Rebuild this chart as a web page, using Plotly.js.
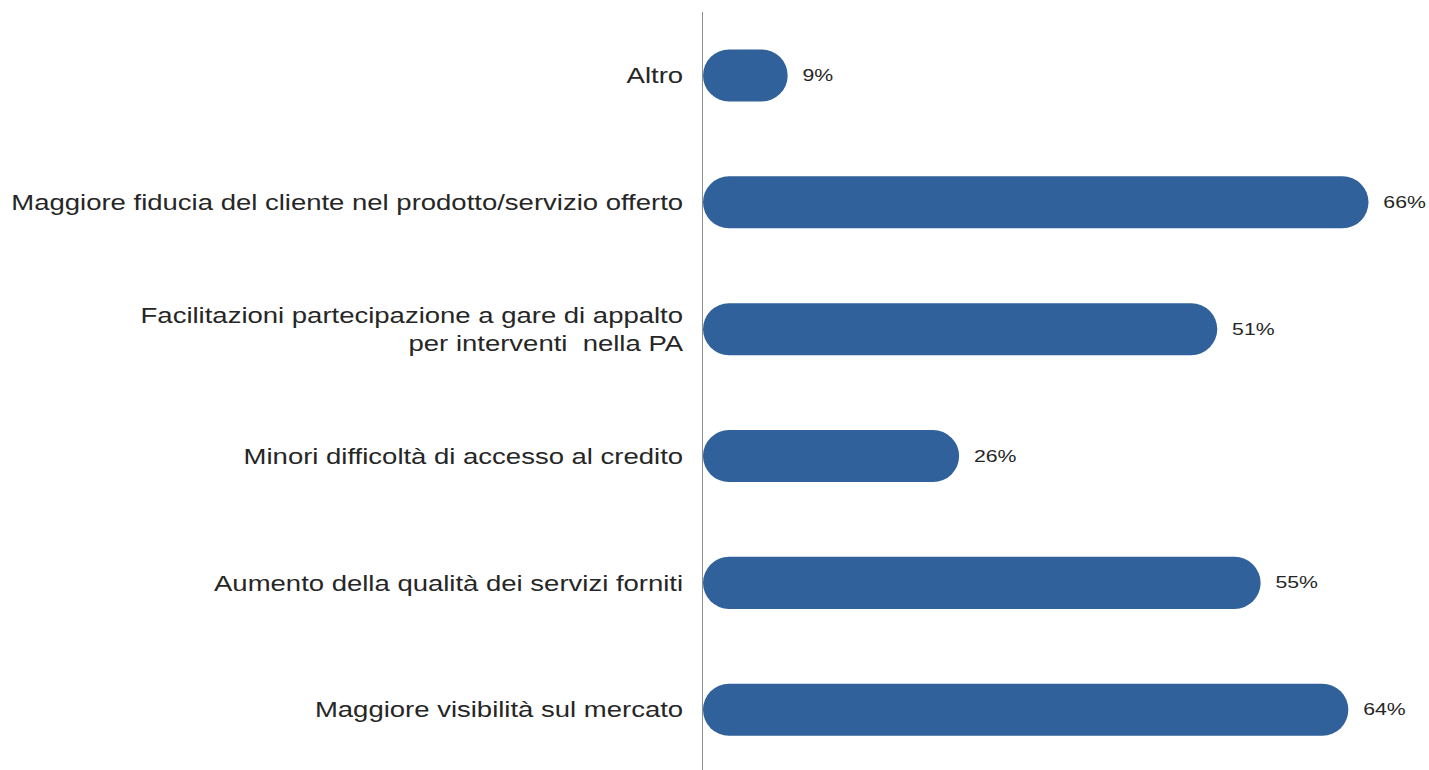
<!DOCTYPE html>
<html>
<head>
<meta charset="utf-8">
<script src="https://cdn.plot.ly/plotly-3.0.1.min.js"></script>
<style>
html,body{margin:0;padding:0;background:#fff;}
#chart{width:1429px;height:770px;}
</style>
</head>
<body>
<div id="chart"></div>
<script>
// Data (bottom to top)
const categories = [
  "Maggiore visibilità sul mercato",
  "Aumento della qualità dei servizi forniti",
  "Minori difficoltà di accesso al credito",
  "Facilitazioni partecipazione a gare di appalto<br>per interventi  nella PA",
  "Maggiore fiducia del cliente nel prodotto/servizio offerto",
  "Altro"
];
// bar lengths (percent)
const values = [64, 55.3, 25.4, 51, 66, 8.4];
// printed value labels
const valueLabels = ["64%", "55%", "26%", "51%", "66%", "9%"];

const BAR_COLOR = "#31619b";
const TEXT_COLOR = "#262626";
const FONT = "Liberation Sans, Arial, sans-serif";
const H_STRETCH = 1.25; // the reference text is drawn horizontally wide

const trace = {
  type: "bar",
  orientation: "h",
  x: values,
  y: categories,
  width: 0.41,
  marker: {color: BAR_COLOR, cornerradius: "50%"},
  text: valueLabels.map(t => "\u00a0\u00a0" + t),
  textposition: "outside",
  cliponaxis: false,
  textfont: {family: FONT, size: 17, color: TEXT_COLOR},
  hoverinfo: "skip"
};

const layout = {
  width: 1429,
  height: 770,
  margin: {l: 703, r: 0, t: 12, b: 0, pad: 0},
  paper_bgcolor: "#ffffff",
  plot_bgcolor: "#ffffff",
  showlegend: false,
  bargap: 0.59,
  xaxis: {
    range: [0, 72],
    visible: false,
    fixedrange: true,
    zeroline: false,
    showgrid: false
  },
  yaxis: {
    type: "category",
    range: [-0.475, 5.5],
    showline: true,
    linecolor: "#8c8c8c",
    linewidth: 1.5,
    showgrid: false,
    zeroline: false,
    ticks: "",
    ticklabelstandoff: 14,
    tickfont: {family: FONT, size: 22, color: TEXT_COLOR},
    fixedrange: true
  },
  font: {family: FONT, color: TEXT_COLOR}
};

function stretch(el, s, side) {
  const b = el.getBBox();
  const ax = side === "end" ? b.x + b.width : b.x;
  const t = el.getAttribute("transform") || "";
  el.setAttribute("transform", t + " translate(" + ax + ",0) scale(" + s + ",1) translate(" + (-ax) + ",0)");
}

Plotly.newPlot("chart", [trace], layout, {displayModeBar: false, staticPlot: true}).then(function(gd){
  // pill-shaped bars (both ends rounded), from the geometry Plotly computed
  gd.querySelectorAll(".bars .point path").forEach(function(p){
    const b = p.getBBox();
    const r = Math.min(b.height / 2, b.width / 2);
    const x0 = b.x, x1 = b.x + b.width, y0 = b.y, y1 = b.y + b.height;
    const d = "M" + (x0 + r) + "," + y0 +
      "H" + (x1 - r) +
      "A" + r + "," + r + " 0 0 1 " + (x1 - r) + "," + y1 +
      "H" + (x0 + r) +
      "A" + r + "," + r + " 0 0 1 " + (x0 + r) + "," + y0 + "Z";
    p.setAttribute("d", d);
  });
  gd.querySelectorAll(".ytick text").forEach(function(t){ stretch(t, H_STRETCH, "end"); });
  gd.querySelectorAll("text.bartext").forEach(function(t){ stretch(t, H_STRETCH, "start"); });
});
</script>
</body>
</html>
